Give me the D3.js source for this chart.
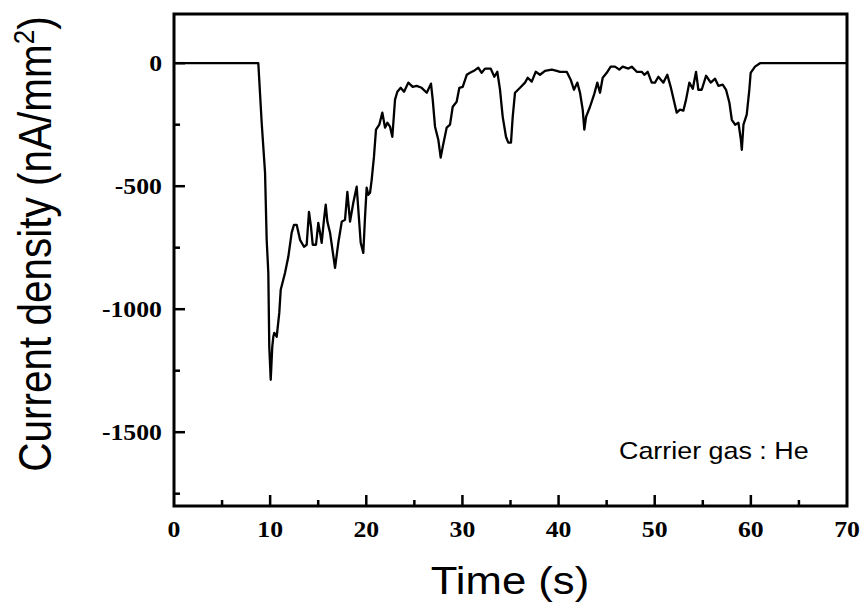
<!DOCTYPE html>
<html>
<head>
<meta charset="utf-8">
<script src="https://cdn.jsdelivr.net/npm/d3@7"></script>
<style>
  html, body { margin: 0; padding: 0; background: #fff; }
  svg { display: block; }
</style>
</head>
<body>
<svg id="chart" width="864" height="611"></svg>
<script>
// ---- data ----
const time = [0, 8.77, 9.12, 9.47, 9.64, 9.81, 9.91, 10.06, 10.22, 10.33, 10.43, 10.68, 10.95, 11.10, 11.55, 11.89, 12.24, 12.48, 12.76, 13.11, 13.52, 13.80, 14.04, 14.25, 14.43, 14.77, 15.01, 15.19, 15.36, 15.60, 15.78, 15.95, 16.23, 16.75, 17.09, 17.45, 17.79, 18.03, 18.31, 18.65, 19.00, 19.42, 19.69, 19.87, 20.04, 20.21, 20.39, 20.56, 20.80, 21.01, 21.35, 21.67, 21.95, 22.19, 22.47, 22.71, 22.99, 23.23, 23.58, 23.93, 24.37, 24.83, 25.24, 25.76, 26.29, 26.73, 26.91, 27.15, 27.49, 27.74, 27.95, 28.36, 28.71, 28.99, 29.40, 29.68, 30.03, 30.45, 30.79, 31.20, 31.65, 32.00, 32.35, 32.94, 33.32, 33.63, 33.91, 34.19, 34.53, 34.77, 35.05, 35.23, 35.47, 35.99, 36.51, 36.79, 37.21, 37.62, 38.07, 38.59, 39.29, 39.81, 40.15, 40.85, 41.26, 41.60, 41.95, 42.23, 42.51, 42.68, 42.86, 43.27, 43.69, 44.03, 44.31, 44.59, 45.01, 45.42, 45.87, 46.32, 46.67, 47.26, 47.61, 48.13, 48.65, 48.92, 49.27, 49.69, 50.03, 50.38, 50.90, 51.31, 51.66, 52.29, 52.63, 52.98, 53.26, 53.60, 53.96, 54.30, 54.54, 54.89, 55.34, 55.83, 56.28, 56.62, 57.07, 57.42, 57.77, 58.02, 58.36, 58.71, 58.96, 59.06, 59.23, 59.57, 59.84, 59.98, 60.43, 60.95, 70];
const current = [0, 0, -242, -445, -718, -852, -1153, -1287, -1153, -1112, -1096, -1112, -1015, -921, -852, -787, -689, -657, -657, -718, -746, -738, -604, -665, -738, -738, -649, -689, -730, -636, -575, -644, -689, -832, -730, -644, -636, -523, -644, -567, -502, -730, -771, -624, -506, -535, -527, -474, -380, -270, -250, -201, -262, -242, -258, -299, -148, -116, -100, -116, -79, -96, -92, -100, -120, -83, -148, -258, -311, -384, -340, -262, -250, -177, -157, -100, -96, -47, -39, -31, -18, -39, -22, -22, -55, -35, -108, -218, -299, -323, -323, -218, -120, -100, -79, -59, -75, -35, -47, -31, -26, -31, -35, -35, -67, -108, -79, -120, -189, -270, -218, -177, -128, -79, -120, -59, -39, -14, -14, -26, -14, -22, -14, -35, -35, -47, -35, -79, -79, -55, -79, -47, -96, -201, -189, -193, -148, -79, -104, -35, -108, -108, -51, -79, -63, -92, -87, -108, -161, -230, -250, -242, -311, -352, -250, -209, -108, -39, -14, 0, 0];
const xMajorTicks = [0, 10, 20, 30, 40, 50, 60, 70];
const xMinorTicks = [5, 15, 25, 35, 45, 55, 65];
const yMajorTicks = [0, -500, -1000, -1500];
const yMinorTicks = [-250, -750, -1250, -1750];
const xTitle = "Time (s)";
const annotation = "Carrier gas : He";

// ---- layout ----
const W = 864, H = 611;
const margin = { left: 174, right: 17, top: 14, bottom: 105 };
const sx = 1.12; // horizontal glyph stretch seen in the reference
const svg = d3.select("#chart");

const x = d3.scaleLinear().domain([0, 70]).range([margin.left, W - margin.right]);
const y = d3.scaleLinear().domain([-1800, 200]).range([H - margin.bottom, margin.top]);

const tickFont = "'Liberation Serif', 'Times New Roman', serif";
const textFont = "'Liberation Sans', Arial, sans-serif";

// data line
const line = d3.line().x((d, i) => x(time[i])).y(d => y(d));
svg.append("path")
  .attr("d", line(current))
  .attr("fill", "none")
  .attr("stroke", "#000")
  .attr("stroke-width", 2.3)
  .attr("stroke-linejoin", "round");

// frame
svg.append("rect")
  .attr("x", x(0)).attr("y", y(200))
  .attr("width", x(70) - x(0)).attr("height", y(-1800) - y(200))
  .attr("fill", "none").attr("stroke", "#000").attr("stroke-width", 3);

// x ticks (inward)
const gx = svg.append("g");
gx.selectAll("line.maj").data(xMajorTicks.filter(d => d > 0 && d < 70)).join("line")
  .attr("x1", d => x(d)).attr("x2", d => x(d))
  .attr("y1", y(-1800)).attr("y2", y(-1800) - 11)
  .attr("stroke", "#000").attr("stroke-width", 2.5);
gx.selectAll("line.min").data(xMinorTicks).join("line")
  .attr("x1", d => x(d)).attr("x2", d => x(d))
  .attr("y1", y(-1800)).attr("y2", y(-1800) - 6)
  .attr("stroke", "#000").attr("stroke-width", 2.5);
gx.selectAll("text").data(xMajorTicks).join("text")
  .attr("transform", d => `translate(${x(d)},${y(-1800) + 31}) scale(${sx},1)`)
  .attr("text-anchor", "middle")
  .attr("font-family", tickFont).attr("font-weight", "bold").attr("font-size", 23)
  .text(d => d);

// y ticks (inward)
const gy = svg.append("g");
gy.selectAll("line.maj").data(yMajorTicks).join("line")
  .attr("x1", x(0)).attr("x2", x(0) + 11)
  .attr("y1", d => y(d)).attr("y2", d => y(d))
  .attr("stroke", "#000").attr("stroke-width", 2.5);
gy.selectAll("line.min").data(yMinorTicks).join("line")
  .attr("x1", x(0)).attr("x2", x(0) + 6)
  .attr("y1", d => y(d)).attr("y2", d => y(d))
  .attr("stroke", "#000").attr("stroke-width", 2.5);
gy.selectAll("text").data(yMajorTicks).join("text")
  .attr("transform", d => `translate(${x(0) - 12},${y(d) + 8}) scale(${sx},1)`)
  .attr("text-anchor", "end")
  .attr("font-family", tickFont).attr("font-weight", "bold").attr("font-size", 23)
  .text(d => d);

// x title
svg.append("text")
  .attr("transform", `translate(510,594) scale(${sx},1)`)
  .attr("text-anchor", "middle")
  .attr("font-family", textFont).attr("font-size", 39)
  .text(xTitle);

// y title
const yt = svg.append("text")
  .attr("transform", `translate(51,244) rotate(-90) scale(1,${sx})`)
  .attr("text-anchor", "middle")
  .attr("font-family", textFont).attr("font-size", 40.5);
yt.append("tspan").text("Current density (nA/mm");
yt.append("tspan").attr("font-size", 26).attr("dy", -15).text("2");
yt.append("tspan").attr("dy", 15).text(")");

// annotation
svg.append("text")
  .attr("transform", `translate(619,459) scale(${sx},1)`)
  .attr("font-family", textFont).attr("font-size", 24)
  .text(annotation);
</script>
</body>
</html>
